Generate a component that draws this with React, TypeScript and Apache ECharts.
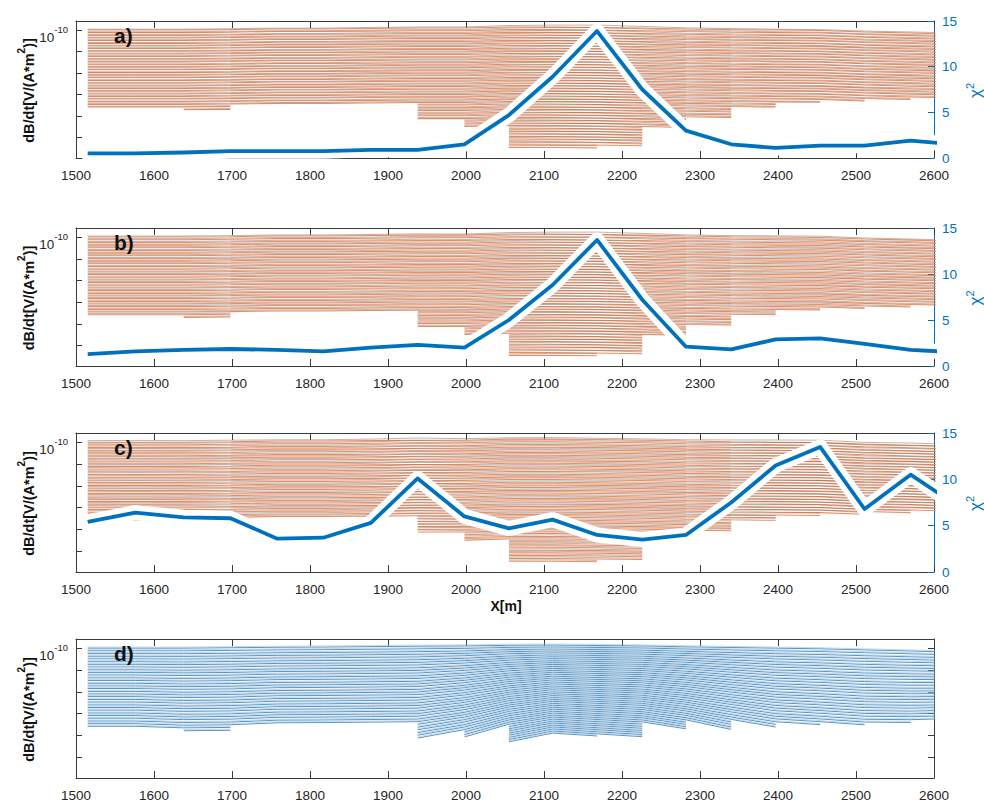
import React, { useEffect, useRef } from 'react';
import * as echarts from 'echarts';

// Sounding positions along the profile [m]
const stationX = [1515, 1576, 1638, 1698, 1758, 1817, 1878, 1938, 1998, 2055, 2111, 2168, 2226, 2282, 2340, 2397, 2454, 2511, 2570, 2627];

// Time gates: log10 drop below the first gate (decades)
const gateOffsets = [
  0, -0.12, -0.25, -0.37, -0.49, -0.62, -0.74, -0.86, -0.99, -1.11,
  -1.23, -1.36, -1.48, -1.61, -1.73, -1.85, -1.98, -2.1, -2.22, -2.35,
  -2.47, -2.6, -2.72, -2.84, -2.97, -3.09, -3.21, -3.34, -3.46, -3.58,
  -3.71, -3.83, -3.96, -4.08, -4.21, -4.33, -4.46, -4.58, -4.71, -4.84,
  -4.96, -5.09, -5.21, -5.34, -5.47, -5.6,
];

// Number of usable gates at each sounding
const gateCount = [30, 30, 31, 31, 29, 29, 29, 35, 38, 46, 46, 46, 45, 38, 34, 30, 28, 27, 26, 25];

// log10 dB/dt of the first gate, measured data
const observedTop = [-10, -10, -10, -9.98, -9.95, -9.95, -9.93, -9.91, -9.91, -9.86, -9.86, -9.88, -9.91, -9.95, -9.98, -10, -10.02, -10.09, -10.14, -10.19];

// Forward response offset from the data (decades), per inversion
const fitShiftA = [0.04, 0.04, 0.04, 0.04, 0.04, 0.04, 0.05, 0.05, 0.05, 0.07, 0.09, 0.11, 0.08, 0.05, 0.05, 0.04, 0.04, 0.04, 0.05, 0.05];
const fitShiftB = [0.05, 0.05, 0.05, 0.05, 0.05, 0.05, 0.05, 0.06, 0.05, 0.07, 0.09, 0.11, 0.08, 0.05, 0.05, 0.06, 0.06, 0.05, 0.05, 0.05];
const fitShiftC = [0.07, 0.08, 0.07, 0.07, 0.06, 0.06, 0.07, 0.1, 0.07, 0.06, 0.07, 0.06, 0.06, 0.06, 0.08, 0.1, 0.11, 0.08, 0.1, 0.09];

// Panel d: processed soundings
const processedTop = [-10, -10, -10, -9.98, -9.96, -9.95, -9.93, -9.91, -9.9, -9.87, -9.86, -9.88, -9.9, -9.94, -9.97, -10, -10.03, -10.08, -10.13, -10.19];
const processedSpread = [1.0, 1.0, 1.02, 1.02, 1.0, 1.0, 1.0, 1.0, 0.91, 0.79, 0.72, 0.74, 0.76, 0.82, 0.92, 1.01, 1.04, 1.07, 1.06, 1.02];
const processedShift = [0.05, 0.05, 0.05, 0.05, 0.05, 0.05, 0.05, 0.05, 0.05, 0.05, 0.05, 0.05, 0.05, 0.05, 0.05, 0.05, 0.05, 0.05, 0.05, 0.05];

// Misfit per sounding
const chiA = [0.5, 0.5, 0.6, 0.75, 0.75, 0.75, 0.9, 0.9, 1.5, 4.7, 8.9, 13.9, 7.5, 3.0, 1.5, 1.1, 1.35, 1.35, 1.9, 1.5];
const chiB = [1.3, 1.6, 1.75, 1.85, 1.75, 1.6, 2.0, 2.3, 2.0, 5.0, 8.8, 13.7, 7.2, 2.1, 1.8, 2.9, 3.0, 2.4, 1.75, 1.5];
const chiC = [5.4, 6.4, 5.9, 5.8, 3.6, 3.7, 5.3, 10.1, 6.0, 4.7, 5.65, 4.0, 3.5, 4.0, 7.5, 11.5, 13.5, 6.8, 10.5, 7.3];

const chiTicks = { min: 0, max: 15, interval: 5 };
const xRange = { min: 1500, max: 2600, interval: 100 };

const FONT = "'Liberation Sans', Arial, Helvetica, sans-serif";
const BLUE = '#0072BD';
const ORANGE = '#ee8c60';
const DARK = '#76604f';
const AXIS = '#3a3a3a';
const TEXT = '#262626';
const LOG_MIN = Math.pow(10, -15.95);
const LOG_MAX = Math.pow(10, -9.58);

const panels = [
  { top: 21, height: 137, tag: 'a)', chi: chiA, fit: fitShiftA },
  { top: 228, height: 138, tag: 'b)', chi: chiB, fit: fitShiftB },
  { top: 433, height: 139, tag: 'c)', chi: chiC, fit: fitShiftC },
  { top: 639, height: 139, tag: 'd)', chi: null as number[] | null, fit: null as number[] | null },
];

const GRID_LEFT = 76;
const GRID_WIDTH = 858;

function lineSeries(panel: number, yIndex: number, data: any[], color: string, width: number, z: number, opacity = 1) {
  return {
    type: 'line',
    xAxisIndex: panel * 2,
    yAxisIndex: yIndex,
    data,
    symbol: 'none',
    showSymbol: false,
    silent: true,
    connectNulls: false,
    z,
    lineStyle: { color, width, opacity },
    emphasis: { disabled: true },
  };
}

function buildOption() {
  const series: any[] = [];
  panels.forEach((p, i) => {
    const yLog = i * 2;
    if (p.chi && p.fit) {
      const fit = p.fit;
      gateOffsets.forEach((g, c) => {
        series.push(lineSeries(i, yLog, stationX.map((x, s) => [x, c < gateCount[s] ? Math.pow(10, observedTop[s] + g) : null]), ORANGE, 1.05, 2));
        series.push(lineSeries(i, yLog, stationX.map((x, s) => [x, c < gateCount[s] ? Math.pow(10, observedTop[s] + g + fit[s]) : null]), DARK, 0.55, 3, 0.85));
      });
      const chiData = stationX.map((x, s) => [x, p.chi![s]]);
      series.push({ ...lineSeries(i, yLog + 1, chiData, '#ffffff', 15, 4), lineStyle: { color: '#ffffff', width: 15, join: 'round', cap: 'round' } });
      series.push({ ...lineSeries(i, yLog + 1, chiData, BLUE, 3.8, 5), lineStyle: { color: BLUE, width: 3.8, join: 'round' } });
    } else {
      gateOffsets.forEach((g, c) => {
        series.push(lineSeries(i, yLog, stationX.map((x, s) => [x, c < gateCount[s] ? Math.pow(10, processedTop[s] + g * processedSpread[s]) : null]), '#3683c0', 0.85, 2));
        series.push(lineSeries(i, yLog, stationX.map((x, s) => [x, c < gateCount[s] ? Math.pow(10, processedTop[s] + g * processedSpread[s] + processedShift[s]) : null]), '#9fbdd4', 0.6, 3));
      });
    }
  });

  const xAxis = panels.flatMap((_, i) => [
    {
      type: 'value', gridIndex: i, position: 'bottom', ...xRange,
      axisLine: { show: true, onZero: false, lineStyle: { color: AXIS, width: 1 } },
      axisTick: { show: true, inside: true, length: 7, lineStyle: { color: AXIS } },
      axisLabel: { show: true, margin: 10, fontSize: 13.5, color: TEXT, fontFamily: FONT, formatter: (v: number) => String(v) },
      splitLine: { show: false },
    },
    {
      type: 'value', gridIndex: i, position: 'top', ...xRange,
      axisLine: { show: true, onZero: false, lineStyle: { color: AXIS, width: 1 } },
      axisTick: { show: true, inside: true, length: 7, lineStyle: { color: AXIS } },
      axisLabel: { show: false },
      splitLine: { show: false },
    },
  ]);

  const logLabel = {
    show: true,
    margin: 8,
    padding: [8, 0, 0, 0],
    formatter: (v: number) => (Math.abs(Math.log10(v) + 10) < 1e-6 ? '{b|10}{s|-10}' : ''),
    rich: {
      b: { fontSize: 13.5, color: TEXT, fontFamily: FONT, lineHeight: 20, verticalAlign: 'bottom' },
      s: { fontSize: 9.5, color: TEXT, fontFamily: FONT, lineHeight: 8, verticalAlign: 'top' },
    },
  };

  const yAxis = panels.flatMap((p, i) => {
    const left = {
      type: 'log', logBase: 10, gridIndex: i, position: 'left', min: LOG_MIN, max: LOG_MAX,
      axisLine: { show: true, lineStyle: { color: AXIS, width: 1 } },
      axisTick: { show: true, inside: true, length: 6, lineStyle: { color: AXIS } },
      minorTick: { show: false },
      axisLabel: logLabel,
      splitLine: { show: false },
    };
    const right = p.chi
      ? {
          type: 'value', gridIndex: i, position: 'right', ...chiTicks,
          axisLine: { show: true, lineStyle: { color: BLUE, width: 1 } },
          axisTick: { show: true, inside: true, length: 6, lineStyle: { color: BLUE } },
          axisLabel: { show: true, margin: 8, fontSize: 13.5, color: BLUE, fontFamily: FONT },
          splitLine: { show: false },
        }
      : {
          type: 'log', logBase: 10, gridIndex: i, position: 'right', min: LOG_MIN, max: LOG_MAX,
          axisLine: { show: true, lineStyle: { color: AXIS, width: 1 } },
          axisTick: { show: true, inside: true, length: 6, lineStyle: { color: AXIS } },
          minorTick: { show: false },
          axisLabel: { show: false },
          splitLine: { show: false },
        };
    return [left, right];
  });

  const graphic: any[] = [];
  panels.forEach((p) => {
    const mid = p.top + p.height / 2;
    graphic.push({
      type: 'text', x: 26, y: mid + 1, rotation: Math.PI / 2, z: 100, silent: true,
      style: {
        text: '{m|dB/dt[V/(A*m}{s|2}{m|)]}',
        align: 'center', verticalAlign: 'middle',
        rich: {
          m: { fontSize: 14.5, fontWeight: 'bold', fontFamily: FONT, fill: '#111', lineHeight: 20, verticalAlign: 'bottom' },
          s: { fontSize: 10, fontWeight: 'bold', fontFamily: FONT, fill: '#111', lineHeight: 8, verticalAlign: 'top' },
        },
      },
    });
    graphic.push({
      type: 'text', x: 114, y: p.top + 14, z: 100, silent: true,
      style: { text: p.tag, fontSize: 21, fontWeight: 'bold', fontFamily: FONT, fill: '#111', align: 'left', verticalAlign: 'middle' },
    });
    if (p.chi) {
      graphic.push({
        type: 'text', x: 974, y: mid + 1, rotation: Math.PI / 2, z: 100, silent: true,
        style: {
          text: '{c|χ}{s|2}',
          align: 'center', verticalAlign: 'middle',
          rich: {
            c: { fontSize: 17, fontFamily: FONT, fill: BLUE, lineHeight: 20, verticalAlign: 'bottom' },
            s: { fontSize: 11, fontFamily: FONT, fill: BLUE, lineHeight: 9, verticalAlign: 'top' },
          },
        },
      });
    }
  });
  graphic.push({
    type: 'text', x: 506, y: 606, z: 100, silent: true,
    style: { text: 'X[m]', fontSize: 14, fontWeight: 'bold', fontFamily: FONT, fill: '#111', align: 'center', verticalAlign: 'middle' },
  });

  return {
    animation: false,
    backgroundColor: '#ffffff',
    grid: panels.map((p) => ({ left: GRID_LEFT, top: p.top, width: GRID_WIDTH, height: p.height, containLabel: false, outerBoundsMode: 'none' })),
    xAxis,
    yAxis,
    series,
    graphic,
  };
}

export default function App() {
  const ref = useRef<HTMLDivElement>(null);
  useEffect(() => {
    if (!ref.current) return;
    const chart = echarts.init(ref.current, undefined, { renderer: 'svg' });
    chart.setOption(buildOption() as any);
    return () => chart.dispose();
  }, []);
  return <div ref={ref} style={{ position: 'fixed', left: 0, top: 0, width: 984, height: 801, background: '#fff' }} />;
}
